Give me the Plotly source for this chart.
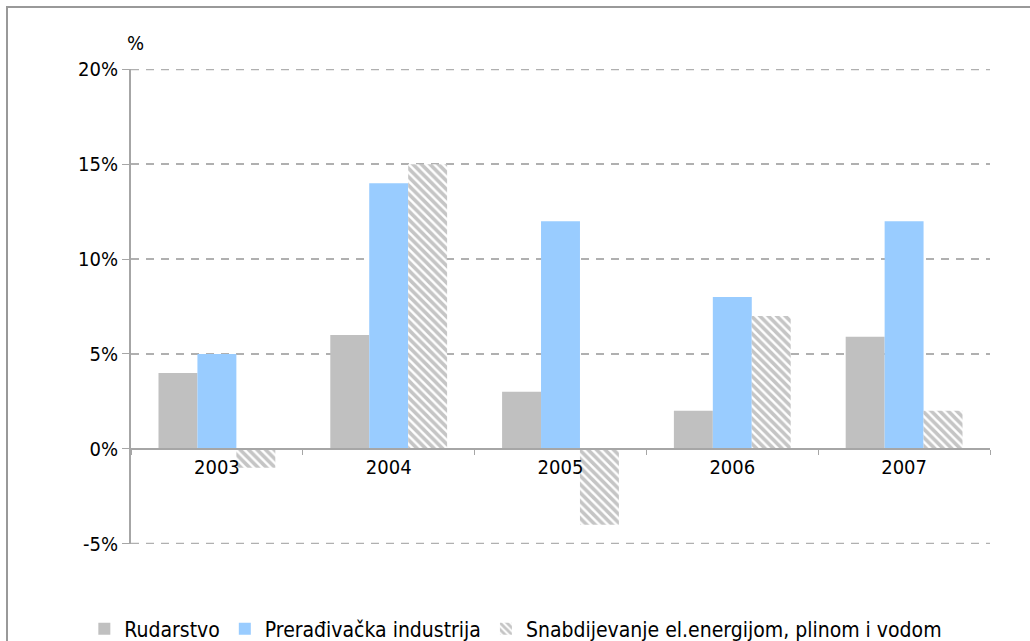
import plotly.graph_objects as go

years = ["2003", "2004", "2005", "2006", "2007"]
rudarstvo = [4.0, 6.0, 3.0, 2.0, 5.9]
preradjivacka = [5.0, 14.0, 12.0, 8.0, 12.0]
snabdijevanje = [-1.0, 15.0, -4.0, 7.0, 2.0]

y_ticks = [-5, 0, 5, 10, 15, 20]
y_tick_labels = ["-5%", "0%", "5%", "10%", "15%", "20%"]

FONT = "DejaVu Sans Condensed, DejaVu Sans, sans-serif"
GRID = "#b0b0b0"
AXIS = "#a6a6a6"

fig = go.Figure()
fig.add_trace(go.Bar(name="Rudarstvo", x=years, y=rudarstvo,
                     marker=dict(color="#c0c0c0", line=dict(width=0))))
fig.add_trace(go.Bar(name="Prerađivačka industrija", x=years, y=preradjivacka,
                     marker=dict(color="#99ccff", line=dict(width=0))))
fig.add_trace(go.Bar(name="Snabdijevanje el.energijom, plinom i vodom", x=years, y=snabdijevanje,
                     marker=dict(color="#ffffff", line=dict(width=0),
                                 pattern=dict(shape="\\", fgcolor="#8c8c8c", bgcolor="#ffffff",
                                              size=6, solidity=0.6))))

ymin, ymax = -5.02, 20.02
zero_pos = (0 - ymin) / (ymax - ymin)

# dashed lines at the range edges (plotly skips grid lines there)
edge_lines = [dict(type="line", xref="paper", yref="y", x0=0, x1=1, y0=v, y1=v,
                   line=dict(color=GRID, width=1.5, dash="8px,7px"), layer="below")
              for v in (y_ticks[0], y_ticks[-1])]

frame = dict(type="rect", xref="paper", yref="paper",
             x0=(7 - 131) / 859, x1=(1040 - 131) / 859,
             y0=(544 - 650) / 475, y1=(544 - 7) / 475,
             line=dict(color="#999999", width=2), layer="below")

fig.update_layout(
    width=1030, height=641,
    margin=dict(l=131, r=40, t=69, b=97, autoexpand=False),
    paper_bgcolor="white", plot_bgcolor="white",
    barmode="group", bargap=0.32, bargroupgap=0,
    font=dict(family=FONT, size=20, color="#000000"),
    showlegend=True,
    legend=dict(orientation="h", x=0.448, xanchor="center",
                yref="container", y=(641 - 629) / 641, yanchor="middle",
                font=dict(size=21), tracegroupgap=0, itemwidth=30),
    xaxis=dict(anchor="free", position=zero_pos, showline=True, linecolor=AXIS, linewidth=2,
               ticks="outside", tickson="boundaries", ticklen=5, tickcolor=AXIS,
               showgrid=False, tickfont=dict(size=20), zeroline=False),
    yaxis=dict(range=[ymin, ymax], tickvals=y_ticks, ticktext=y_tick_labels,
               showline=True, linecolor=AXIS, linewidth=2,
               ticks="outside", ticklen=7, tickcolor=AXIS,
               showgrid=True, gridcolor=GRID, griddash="8px,7px", gridwidth=1.5,
               zeroline=False, tickfont=dict(size=20)),
    annotations=[dict(text="%", xref="paper", yref="paper", x=0.005, y=1.055,
                      xanchor="center", yanchor="middle", showarrow=False,
                      font=dict(size=20))],
    shapes=[frame] + edge_lines,
)

fig.write_html("out.html")
